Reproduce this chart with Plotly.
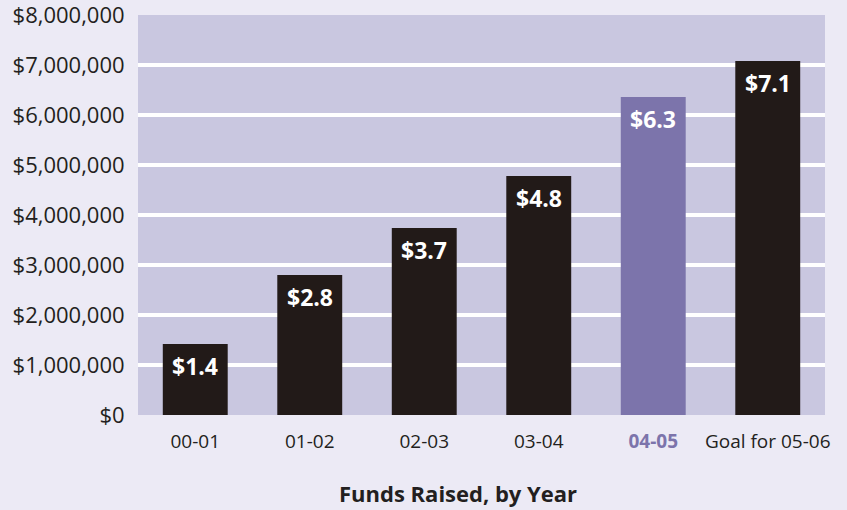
import plotly.graph_objects as go

categories = ["00-01", "01-02", "02-03", "03-04", "04-05", "Goal for 05-06"]
values = [1.42e6, 2.8e6, 3.74e6, 4.78e6, 6.36e6, 7.08e6]
labels = ["$1.4", "$2.8", "$3.7", "$4.8", "$6.3", "$7.1"]
bar_colors = ["#221A18", "#221A18", "#221A18", "#221A18", "#7C74AB", "#221A18"]
tick_text = ["00-01", "01-02", "02-03", "03-04",
             "<b><span style='color:#7C74AB'>04-05</span></b>", "Goal for 05-06"]
y_ticks = [0, 1e6, 2e6, 3e6, 4e6, 5e6, 6e6, 7e6, 8e6]
y_tick_text = ["$0", "$1,000,000", "$2,000,000", "$3,000,000", "$4,000,000",
               "$5,000,000", "$6,000,000", "$7,000,000", "$8,000,000"]
y_range = [0, 8e6]

fig = go.Figure(go.Bar(
    x=categories, y=values,
    marker=dict(color=bar_colors, line=dict(width=0)),
    width=0.567, hoverinfo="x+y",
))
# invisible trace to anchor the label axis
fig.add_trace(go.Scatter(x=[categories[0]], y=[0], yaxis="y2", mode="markers",
                         marker=dict(opacity=0), hoverinfo="skip", showlegend=False))

annotations = [
    dict(x=c, y=v, xref="x", yref="y", text=f"<b>{t}</b>", showarrow=False,
         yanchor="top", xanchor="center", yshift=-4,
         font=dict(family="Open Sans", size=23, color="white"))
    for c, v, t in zip(categories, values, labels)
]
annotations.append(dict(text="<b>Funds Raised, by Year</b>", xref="paper", yref="paper",
                        x=0.466, y=-0.195, yanchor="middle", xanchor="center",
                        showarrow=False, font=dict(size=22, color="#231F20")))

fig.update_layout(
    width=847, height=510,
    margin=dict(l=138, r=22, t=15, b=95, autoexpand=False),
    paper_bgcolor="#ECEAF5", plot_bgcolor="#C9C7E0",
    showlegend=False,
    font=dict(family="Open Sans", color="#231F20"),
    xaxis=dict(type="category", tickmode="array", tickvals=categories, ticktext=tick_text,
               tickfont=dict(size=19), showgrid=False, ticks="outside", ticklen=9,
               tickcolor="rgba(0,0,0,0)", ticklabeloverflow="allow", automargin=False),
    yaxis=dict(range=y_range, tickvals=y_ticks[1:-1], showticklabels=False,
               gridcolor="white", gridwidth=4, zeroline=False, ticks="",
               automargin=False),
    yaxis2=dict(range=y_range, overlaying="y", side="left", tickvals=y_ticks,
                ticktext=y_tick_text, tickfont=dict(size=22), showgrid=False,
                zeroline=False, ticks="outside", ticklen=8,
                tickcolor="rgba(0,0,0,0)", ticklabeloverflow="allow", automargin=False),
    annotations=annotations,
)

fig.write_html("out.html")
